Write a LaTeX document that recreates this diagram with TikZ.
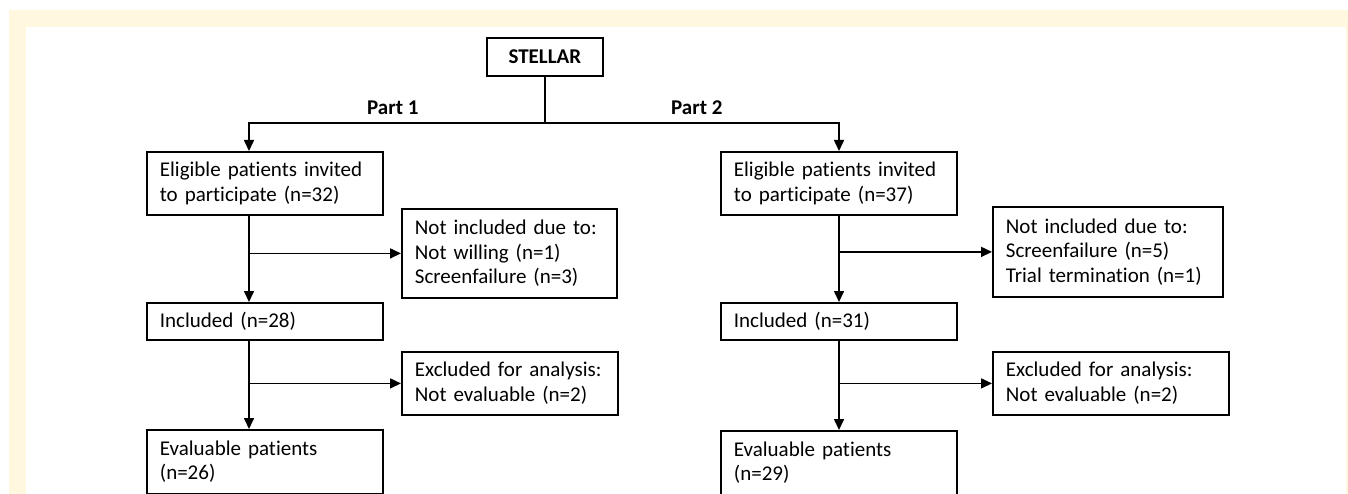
\documentclass[tikz,border=0pt]{standalone}
\usepackage{fontspec}
\setmainfont{Carlito}[Ligatures={NoCommon,NoContextual}]
\usetikzlibrary{arrows.meta}
\definecolor{cream}{RGB}{255,248,222}
\tikzset{
  box/.style={draw=black, line width=1.8pt, anchor=north west, align=left, inner xsep=13pt, inner ysep=0pt, font=\fontsize{21}{24.5}\selectfont},
  arr/.style={line width=1.6pt, -{Triangle[length=11pt,width=10pt]}},
  ln/.style={line width=1.6pt},
  lbl/.style={font=\fontsize{21}{24}\selectfont\bfseries, anchor=base west, inner sep=0pt}
}
\begin{document}
\begin{tikzpicture}[x=1pt,y=-1pt]
\useasboundingbox (0,0) rectangle (1348,494);
\fill[white] (0,0) rectangle (1348,494);
\fill[cream] (9,10) rectangle (1348,494);
\fill[white] (26,27) rectangle (1346,494);

\node[box, minimum width=116, minimum height=38, align=center, inner xsep=0pt, font=\fontsize{21}{24}\selectfont\bfseries] (st) at (486,37) {STELLAR};
\node[lbl] (p1) at (367,115) {Part 1};
\node[lbl] (p2) at (671,115) {Part 2};

% left column
\node[box, minimum width=236, minimum height=63, text width=210] (e1) at (146,151) {Eligible patients invited\\to participate (n=32)};
\node[box, minimum width=215, minimum height=89, text width=189] (n1) at (401,208) {Not included due to:\\Not willing (n=1)\\Screenfailure (n=3)};
\node[box, minimum width=236, minimum height=37, text width=210] (i1) at (146,302) {Included (n=28)};
\node[box, minimum width=216, minimum height=63, text width=190] (x1) at (401,351) {Excluded for analysis:\\Not evaluable (n=2)};
\node[box, minimum width=236, minimum height=64, text width=210] (v1) at (146,429) {Evaluable patients\\(n=26)};

% right column
\node[box, minimum width=236, minimum height=63, text width=210] (e2) at (720,151) {Eligible patients invited\\to participate (n=37)};
\node[box, minimum width=230, minimum height=90, text width=204] (n2) at (992,206) {Not included due to:\\Screenfailure (n=5)\\Trial termination (n=1)};
\node[box, minimum width=236, minimum height=37, text width=210] (i2) at (720,302) {Included (n=31)};
\node[box, minimum width=236, minimum height=63, text width=210] (x2) at (992,351) {Excluded for analysis:\\Not evaluable (n=2)};
\node[box, minimum width=236, minimum height=64, text width=210] (v2) at (720,430) {Evaluable patients\\(n=29)};

\coordinate (cl) at (249,0);
\coordinate (cr) at (839,0);
\coordinate (split) at (st.south |- 0,123);

\draw[ln] (st.south) -- (split);
\draw[arr] (split) -| (e1.north -| cl);
\draw[arr] (split) -| (e2.north -| cr);

\draw[arr] (e1.south -| cl) -- (i1.north -| cl);
\draw[arr] (n1.west -| cl) -- (n1.west);
\draw[arr] (i1.south -| cl) -- (v1.north -| cl);
\draw[arr] (x1.west -| cl) -- (x1.west);

\draw[arr] (e2.south -| cr) -- (i2.north -| cr);
\draw[arr] (n2.west -| cr) -- (n2.west);
\draw[arr] (i2.south -| cr) -- (v2.north -| cr);
\draw[arr] (x2.west -| cr) -- (x2.west);
\end{tikzpicture}
\end{document}
